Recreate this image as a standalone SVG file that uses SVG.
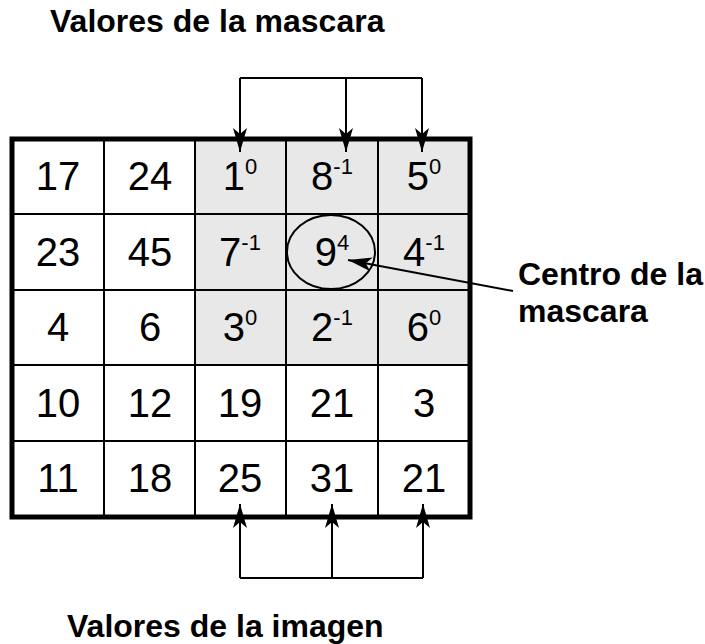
<svg xmlns="http://www.w3.org/2000/svg" width="705" height="644" viewBox="0 0 705 644">
<style>
.num{font-family:"Liberation Sans",Arial,sans-serif;font-size:40px;fill:#000;text-anchor:middle}
.sup{font-size:22px}
.lbl{font-family:"Liberation Sans",Arial,sans-serif;font-size:32px;font-weight:bold;fill:#000}
.grid{stroke:#000;stroke-width:2;fill:none}
.con{stroke:#000;stroke-width:2;fill:none}
</style>
<defs>
<marker id="ah" viewBox="0 0 24 14" markerWidth="24" markerHeight="14" refX="24" refY="7" orient="auto" markerUnits="userSpaceOnUse">
<path d="M0,0 L24,7 L0,14 L6,7 z" fill="#000"/>
</marker>
</defs>
<rect width="705" height="644" fill="#fff"/>
<g id="mask-area">
<rect x="195" y="139" width="275" height="227" fill="#e8e8e8"/>
</g>
<g id="grid">
<line class="grid" x1="104" y1="139" x2="104" y2="517"/>
<line class="grid" x1="195" y1="139" x2="195" y2="517"/>
<line class="grid" x1="286" y1="139" x2="286" y2="517"/>
<line class="grid" x1="378" y1="139" x2="378" y2="517"/>
<line class="grid" x1="12" y1="214" x2="470" y2="214"/>
<line class="grid" x1="12" y1="290" x2="470" y2="290"/>
<line class="grid" x1="12" y1="365" x2="470" y2="365"/>
<line class="grid" x1="12" y1="441" x2="470" y2="441"/>
<rect x="12" y="139" width="458" height="378" fill="none" stroke="#000" stroke-width="5"/>
</g>
<g id="center-ellipse">
<ellipse cx="331" cy="252" rx="44" ry="37" fill="none" stroke="#000" stroke-width="2"/>
</g>
<g id="cells">
<text class="num" x="58" y="190">17</text>
<text class="num" x="150" y="190">24</text>
<text class="num" x="240" y="190">1<tspan class="sup" dy="-16">0</tspan></text>
<text class="num" x="332" y="190">8<tspan class="sup" dy="-16">-1</tspan></text>
<text class="num" x="424" y="190">5<tspan class="sup" dy="-16">0</tspan></text>
<text class="num" x="58" y="266">23</text>
<text class="num" x="150" y="266">45</text>
<text class="num" x="240" y="266">7<tspan class="sup" dy="-16">-1</tspan></text>
<text class="num" x="332" y="266">9<tspan class="sup" dy="-16">4</tspan></text>
<text class="num" x="424" y="266">4<tspan class="sup" dy="-16">-1</tspan></text>
<text class="num" x="58" y="341">4</text>
<text class="num" x="150" y="341">6</text>
<text class="num" x="240" y="341">3<tspan class="sup" dy="-16">0</tspan></text>
<text class="num" x="332" y="341">2<tspan class="sup" dy="-16">-1</tspan></text>
<text class="num" x="424" y="341">6<tspan class="sup" dy="-16">0</tspan></text>
<text class="num" x="58" y="417">10</text>
<text class="num" x="150" y="417">12</text>
<text class="num" x="240" y="417">19</text>
<text class="num" x="332" y="417">21</text>
<text class="num" x="424" y="417">3</text>
<text class="num" x="58" y="492">11</text>
<text class="num" x="150" y="492">18</text>
<text class="num" x="240" y="492">25</text>
<text class="num" x="332" y="492">31</text>
<text class="num" x="424" y="492">21</text>
</g>
<g id="connectors">
<polyline class="con" points="240,78 422,78"/>
<line class="con" x1="240" y1="78" x2="240" y2="152" marker-end="url(#ah)"/>
<line class="con" x1="346" y1="78" x2="346" y2="152" marker-end="url(#ah)"/>
<line class="con" x1="422" y1="78" x2="422" y2="152" marker-end="url(#ah)"/>
<polyline class="con" points="240,578 423,578"/>
<line class="con" x1="240" y1="578" x2="240" y2="504" marker-end="url(#ah)"/>
<line class="con" x1="332" y1="578" x2="332" y2="504" marker-end="url(#ah)"/>
<line class="con" x1="423" y1="578" x2="423" y2="504" marker-end="url(#ah)"/>
<line class="con" x1="513" y1="291" x2="348" y2="260" marker-end="url(#ah)"/>
</g>
<g id="labels">
<text class="lbl" x="50" y="32">Valores de la mascara</text>
<text class="lbl" x="67" y="637">Valores de la imagen</text>
<text class="lbl" x="518" y="285">Centro de la</text>
<text class="lbl" x="518" y="322">mascara</text>
</g>
</svg>
